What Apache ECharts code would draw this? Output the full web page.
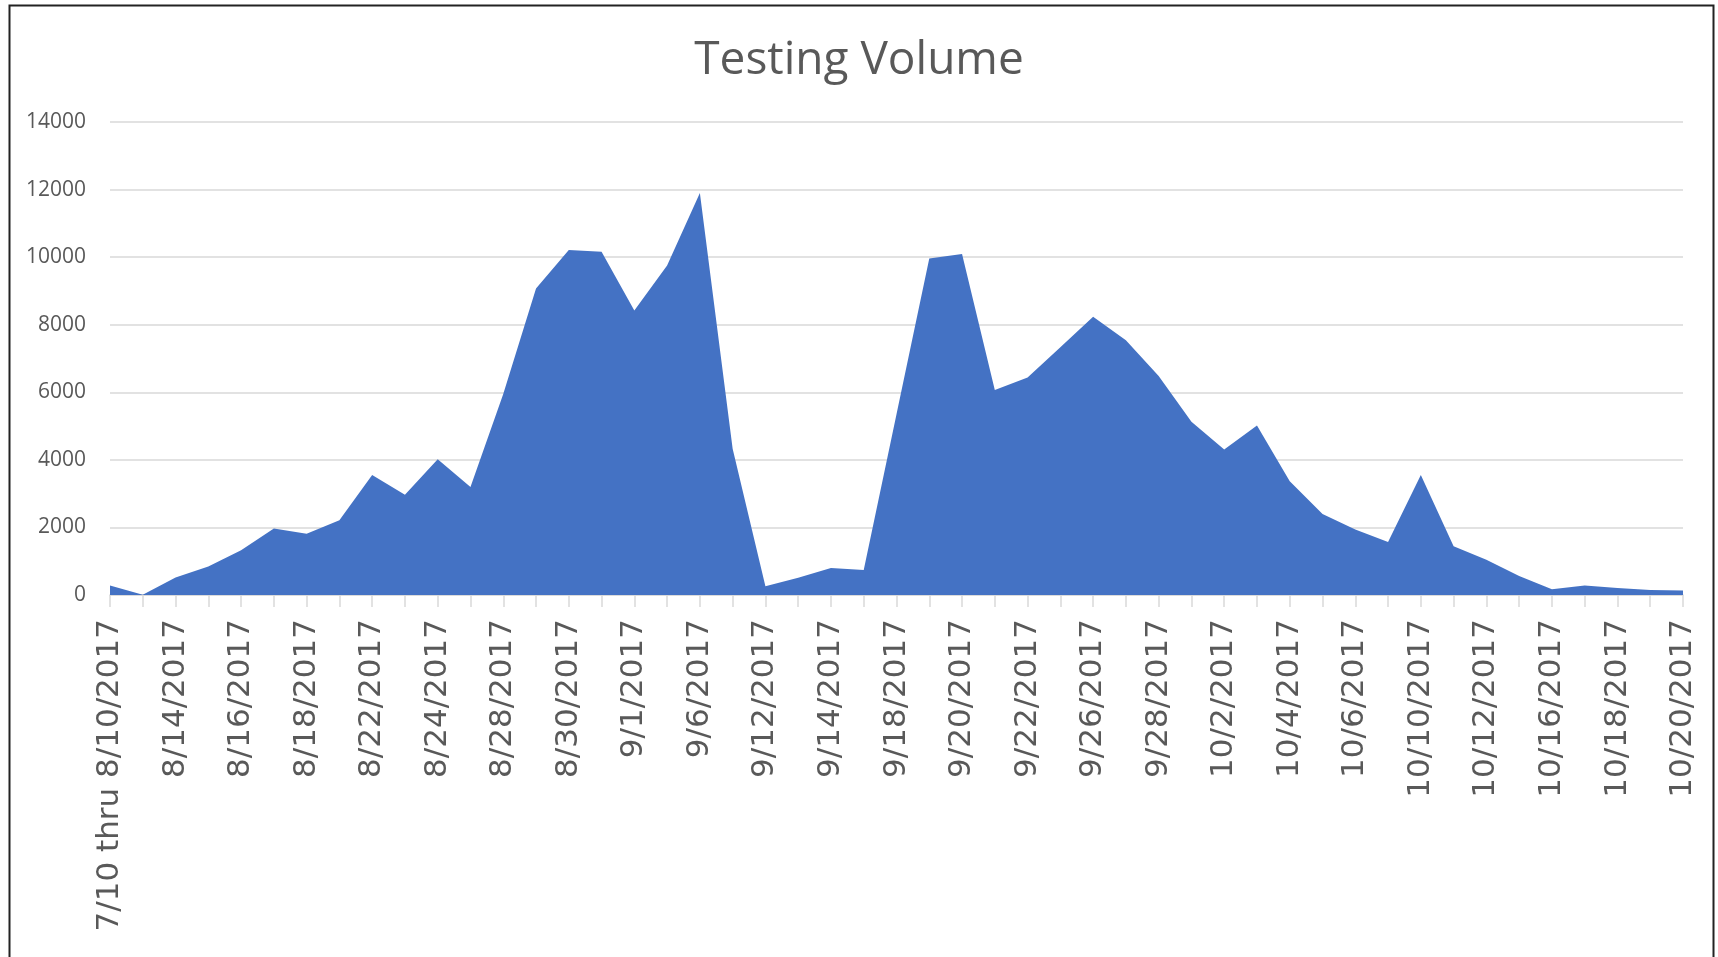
<!DOCTYPE html>
<html>
<head>
<meta charset="utf-8">
<script src="https://cdn.jsdelivr.net/npm/echarts@6/dist/echarts.min.js"></script>
<style>
  html, body { margin: 0; padding: 0; background: #ffffff; }
  #chart { width: 1718px; height: 957px; }
</style>
</head>
<body>
<div id="chart"></div>
<script>
const categories = [
  "7/10 thru 8/10/2017", "8/11/2017", "8/14/2017", "8/15/2017", "8/16/2017", "8/17/2017",
  "8/18/2017", "8/21/2017", "8/22/2017", "8/23/2017", "8/24/2017", "8/25/2017",
  "8/28/2017", "8/29/2017", "8/30/2017", "8/31/2017", "9/1/2017", "9/5/2017",
  "9/6/2017", "9/7/2017", "9/12/2017", "9/13/2017", "9/14/2017", "9/15/2017",
  "9/18/2017", "9/19/2017", "9/20/2017", "9/21/2017", "9/22/2017", "9/25/2017",
  "9/26/2017", "9/27/2017", "9/28/2017", "9/29/2017", "10/2/2017", "10/3/2017",
  "10/4/2017", "10/5/2017", "10/6/2017", "10/9/2017", "10/10/2017", "10/11/2017",
  "10/12/2017", "10/13/2017", "10/16/2017", "10/17/2017", "10/18/2017", "10/19/2017",
  "10/20/2017"
];
const testingVolume = [
  280, 10, 520, 845, 1325, 1970,
  1815, 2210, 3550, 2965, 4015, 3200,
  5950, 9070, 10215, 10160, 8420, 9750,
  11900, 4330, 260, 510, 800, 740,
  5350, 9960, 10090, 6070, 6440, 7330,
  8235, 7540, 6480, 5130, 4310, 5015,
  3370, 2400, 1940, 1570, 3550, 1440,
  1040, 560, 170, 280, 210, 150,
  130
];
const yTicks = { min: 0, max: 14000, interval: 2000 };
const chartTitle = "Testing Volume";

const chart = echarts.init(document.getElementById('chart'), null, { renderer: 'canvas' });
chart.setOption({
  animation: false,
  backgroundColor: '#ffffff',
  title: {
    text: chartTitle,
    left: 'center',
    top: 33,
    textStyle: { fontFamily: 'Open Sans', fontSize: 46, fontWeight: 'normal', color: '#595959' }
  },
  graphic: [{
    type: 'rect',
    left: 7, top: 3,
    shape: { width: 1704, height: 1000 },
    style: { fill: 'none', stroke: '#222222', lineWidth: 2 },
    silent: true
  }],
  grid: { left: 110, right: 35, top: 122, bottom: 362, containLabel: false },
  xAxis: {
    type: 'category',
    data: categories,
    boundaryGap: false,
    axisLine: { show: true, lineStyle: { color: '#d9d9d9', width: 1.5 } },
    axisTick: { show: true, interval: 0, length: 12, lineStyle: { color: '#d9d9d9', width: 1.5 } },
    axisLabel: {
      interval: 1,
      rotate: 90,
      margin: 24,
      fontFamily: '"DejaVu Sans"',
      fontSize: 31,
      color: '#595959'
    },
    splitLine: { show: false }
  },
  yAxis: {
    type: 'value',
    min: yTicks.min,
    max: yTicks.max,
    interval: yTicks.interval,
    axisLine: { show: false },
    axisTick: { show: false },
    axisLabel: {
      margin: 24, fontFamily: 'Open Sans', fontSize: 21, color: '#595959',
      formatter: function (v) { return String(v); }
    },
    splitLine: { lineStyle: { color: '#d9d9d9', width: 1.5 } }
  },
  series: [{
    type: 'line',
    data: testingVolume,
    symbol: 'none',
    lineStyle: { width: 0, color: '#4472C4' },
    itemStyle: { color: '#4472C4' },
    areaStyle: { color: '#4472C4', opacity: 1 },
    z: 1
  }]
});
</script>
</body>
</html>
